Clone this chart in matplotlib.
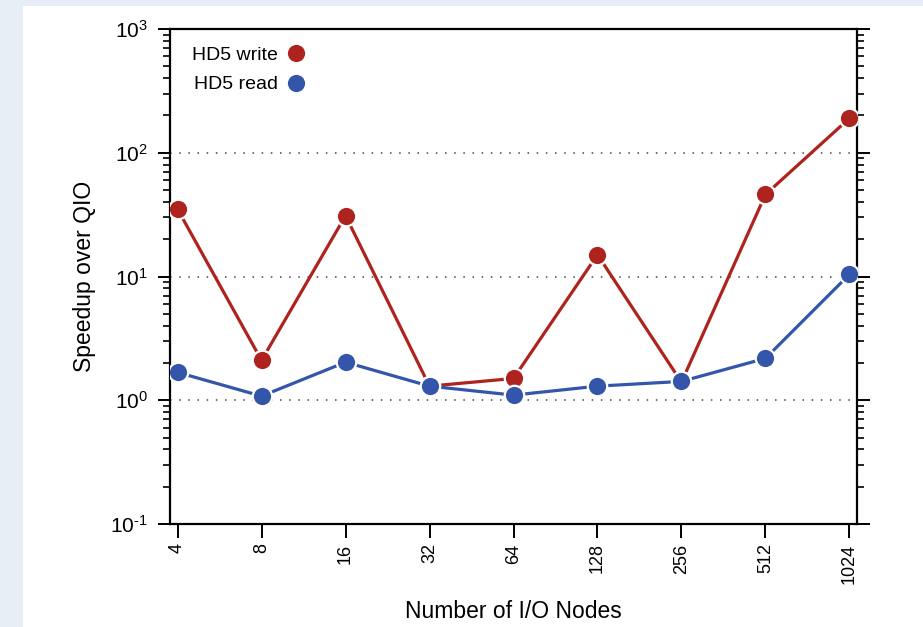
import matplotlib.pyplot as plt
import numpy as np
from matplotlib.lines import Line2D
from matplotlib.patches import Rectangle

# Data
io_nodes = ["4", "8", "16", "32", "64", "128", "256", "512", "1024"]
hd5_write = [35, 2.1, 31, 1.3, 1.5, 15, 1.4, 46, 190]
hd5_read = [1.68, 1.08, 2.03, 1.3, 1.1, 1.3, 1.42, 2.18, 10.4]
grid_levels = [1, 10, 100]
y_ticks = [0.1, 1, 10, 100, 1000]
y_tick_labels = ["$10^{\u20101}$", "$10^{0}$", "$10^{1}$", "$10^{2}$", "$10^{3}$"]

RED = "#af231e"
BLUE = "#3356aa"
BG = "#e8eef6"

plt.rcParams["font.family"] = ["Liberation Sans", "DejaVu Sans"]
plt.rcParams["mathtext.fontset"] = "custom"
plt.rcParams["mathtext.rm"] = "Liberation Sans"
plt.rcParams["mathtext.it"] = "Liberation Sans"
plt.rcParams["axes.unicode_minus"] = False

fig = plt.figure(figsize=(9.23, 6.27), dpi=100, facecolor=BG)
fig.patches.append(
    Rectangle((23 / 923, 0), 1, 1 - 6 / 627, transform=fig.transFigure,
              facecolor="white", edgecolor="none", zorder=-10)
)
ax = fig.add_axes([170 / 923, 1 - 524 / 627, 687 / 923, 495 / 627])

x = np.arange(len(io_nodes))
for vals, col in [(hd5_write, RED), (hd5_read, BLUE)]:
    ax.plot(x, vals, color=col, lw=2.3, marker="o", ms=14,
            markerfacecolor=col, markeredgecolor="white", markeredgewidth=1.6,
            zorder=3)

for g in grid_levels:
    ax.axhline(g, color="#444444", lw=1.1, ls=(0, (1, 5)), zorder=1)

ax.set_yscale("log")
ax.set_ylim(0.1, 1000)
ax.set_xlim(-0.09, 8.09)
ax.set_yticks(y_ticks)
ax.set_yticklabels(y_tick_labels)
ax.set_xticks(x)
ax.set_xticklabels(io_nodes, rotation=90)

for s in ax.spines.values():
    s.set_linewidth(1.6)

ax.tick_params(axis="y", which="major", length=9, width=1.4, labelsize=15,
               pad=7, right=True, direction="out")
ax.tick_params(axis="y", which="minor", length=5, width=1.2, right=True,
               direction="out")
ax.tick_params(axis="x", which="major", length=10, width=1.4, labelsize=13,
               pad=4, direction="out")
ax.tick_params(axis="x", which="minor", bottom=False)

ax.set_ylabel("Speedup over QIO", fontsize=16.5, labelpad=10)
ax.set_xlabel("Number of I/O Nodes", fontsize=16.5, labelpad=12)

handles = [
    Line2D([], [], ls="none", marker="o", ms=14, markerfacecolor=RED,
           markeredgecolor="white", markeredgewidth=1.6),
    Line2D([], [], ls="none", marker="o", ms=14, markerfacecolor=BLUE,
           markeredgecolor="white", markeredgewidth=1.6),
]
ax.legend(handles, ["HD5 write", "HD5 read"], loc="upper left",
          bbox_to_anchor=(5 / 687, 1.0), frameon=False, markerfirst=False,
          fontsize=14, handlelength=0.8, handletextpad=0.5,
          labelspacing=0.6, borderaxespad=0.5)

fig.savefig("out.png", dpi=100, facecolor=BG)
